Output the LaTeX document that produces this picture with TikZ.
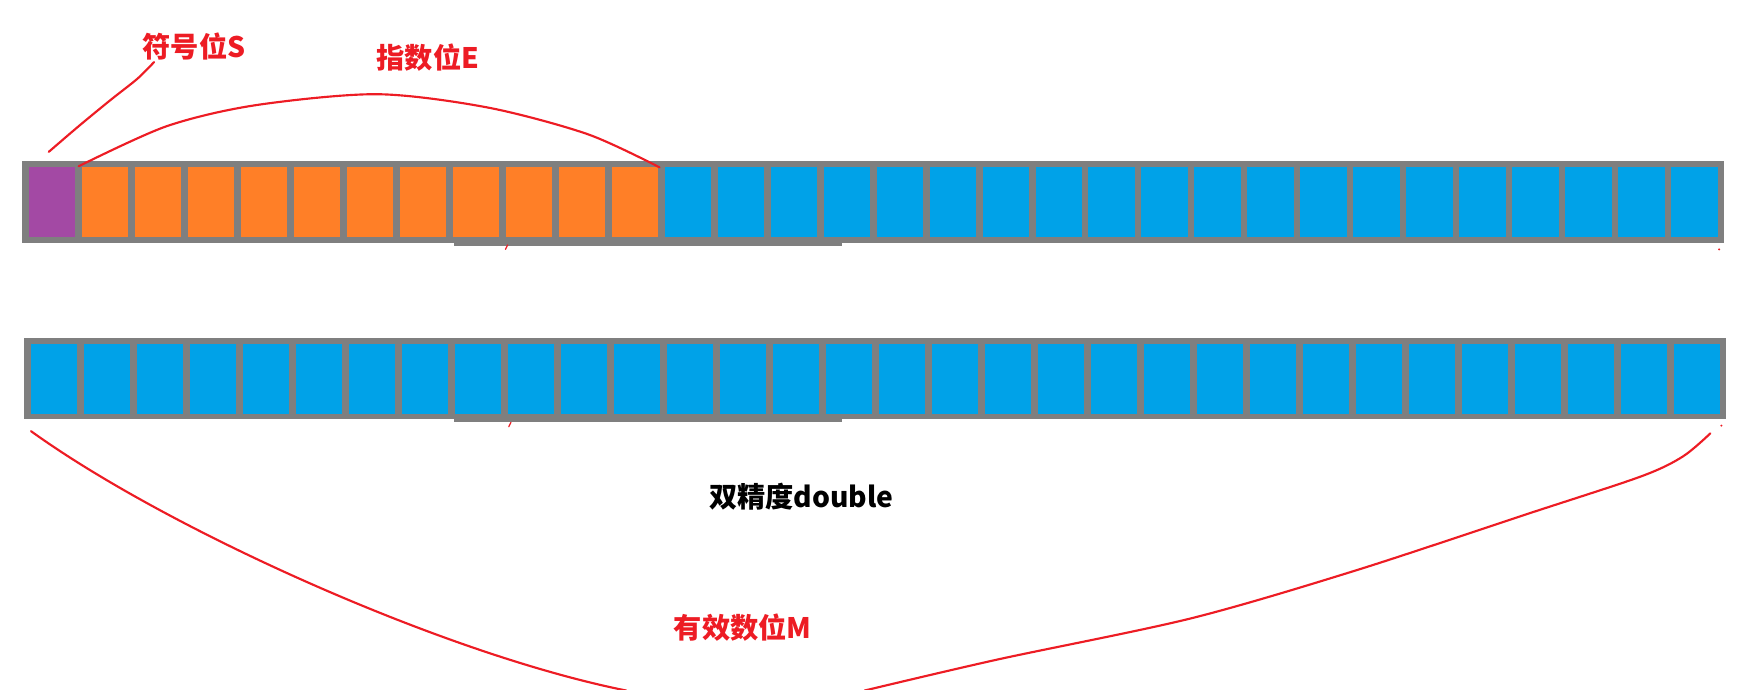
\documentclass[tikz,border=0pt]{standalone}
\usepackage{fontspec}
\newfontfamily\cjkfont{Noto Sans CJK SC}
\definecolor{paintred}{RGB}{237,28,36}
\definecolor{signpurple}{RGB}{163,73,164}
\definecolor{exporange}{RGB}{255,127,39}
\definecolor{mantblue}{RGB}{0,162,232}
\definecolor{bargray}{RGB}{127,127,127}
\begin{document}
\begin{tikzpicture}[x=0.02cm,y=-0.02cm,line cap=round,line join=round,
	cell/.style={inner sep=0pt,minimum width=0.836cm,minimum height=1.26cm},
	redtext/.style={inner sep=0pt,text=paintred,font=\cjkfont\bfseries\fontsize{14.5}{14.5}\selectfont},
	redcurve/.style={draw=paintred,line width=1.1pt}]
	\useasboundingbox (0,0) rectangle (1568,622.5);
	
	% draw the two gray bars
	\fill[bargray] (20,145.5) rectangle (1555,219);
	\fill[bargray] (410,219) rectangle (760,222);
	\fill[bargray] (22,305) rectangle (1557,378);
	\fill[bargray] (410,378) rectangle (760,381);
	
	% first bar: sign, exponent, then mantissa
	\node[cell,fill=signpurple] (s) at (46.9,182.5) {};
	\foreach \i in {1,...,11} {
		  \node[cell,fill=exporange] (e\i) at (46.9+\i*47.8,182.5) {};
	}
	\foreach \i in {12,...,31} {
		  \node[cell,fill=mantblue] (m\i) at (46.9+\i*47.8,182.5) {};
	}
	
	% second bar: only mantissa
	\foreach \i in {0,...,31} {
		  \node[cell,fill=mantblue] (n\i) at (48.9+\i*47.8,342) {};
	}
	
	% labels
	\node[redtext] (sl) at (175,42) {符号位S};
	\node[redtext] (el) at (386,52) {指数位E};
	\node[inner sep=0pt,font=\cjkfont\bfseries\fontsize{14.5}{14.5}\selectfont] (dl) at (723,448) {双精度double};
	\node[redtext] (ml) at (670,566) {有效数位M};
	
	% curves
	\coordinate (sfoot) at (44,137);
	\coordinate (stop) at (139,56);
	\draw[redcurve] plot[smooth] coordinates {(sfoot) (72,113) (100,90) (124,71) (stop)};
	
	\coordinate (eleft) at (71,150);
	\coordinate (eright) at (595,151);
	\draw[redcurve] plot[smooth] coordinates {(eleft) (150,114) (230,95) (340,85) (440,97) (530,121) (eright)};
	
	\coordinate (mleft) at (28,389);
	\coordinate (mright) at (1543,391);
	\draw[redcurve] (mleft) .. controls (150,477) and (400,590) .. (565,623);
	\draw[redcurve] plot[smooth] coordinates {(780,623) (900,595) (1074,558) (1222,515) (1377,464) (1480,430) (1518,412) (mright)};
	
	% small marks under the bars
	\draw[redcurve,line width=0.6pt] (458,221) -- (456,225);
	\draw[redcurve,line width=0.6pt] (461,381) -- (459,385);
	\fill[paintred] (1551,225) circle(1);
	\fill[paintred] (1553,384) circle(1);
\end{tikzpicture}
\end{document}
